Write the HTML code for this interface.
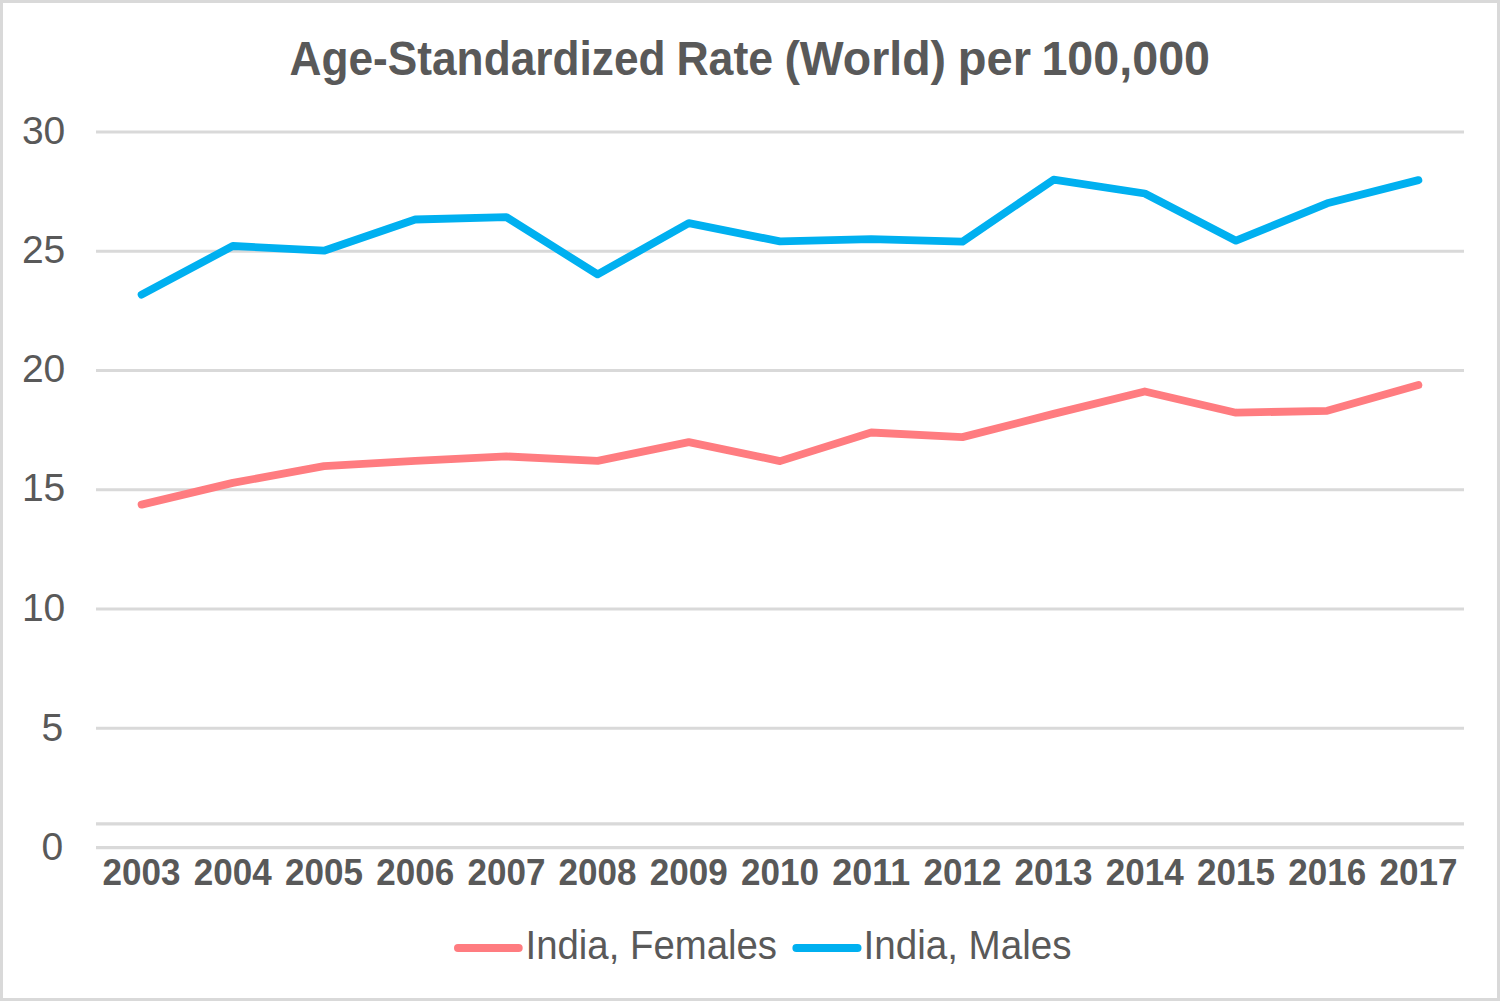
<!DOCTYPE html>
<html><head><meta charset="utf-8"><style>
html,body{margin:0;padding:0;background:#fff;}
body{width:1500px;height:1001px;overflow:hidden;}
svg{display:block;}
</style></head><body>
<svg width="1500" height="1001" viewBox="0 0 1500 1001">
<rect x="1.5" y="1.5" width="1497" height="998" fill="#fff" stroke="#d9d9d9" stroke-width="3"/>
<g font-family="Liberation Sans, sans-serif" font-weight="bold" font-size="48.5" fill="#595959">
<text x="289.48" y="75" textLength="376.06" lengthAdjust="spacingAndGlyphs">Age-Standardized</text>
<text x="676.38" y="75" textLength="96.67" lengthAdjust="spacingAndGlyphs">Rate</text>
<text x="784.41" y="75" textLength="161.65" lengthAdjust="spacingAndGlyphs">(World)</text>
<text x="957.81" y="75" textLength="73.25" lengthAdjust="spacingAndGlyphs">per</text>
<text x="1041.39" y="75" textLength="168.68" lengthAdjust="spacingAndGlyphs">100,000</text>
</g>
<g stroke="#d9d9d9" stroke-width="3.1">
<line x1="96" y1="847.6" x2="1464" y2="847.6"/>
<line x1="96" y1="728.3" x2="1464" y2="728.3"/>
<line x1="96" y1="609.0" x2="1464" y2="609.0"/>
<line x1="96" y1="489.8" x2="1464" y2="489.8"/>
<line x1="96" y1="370.5" x2="1464" y2="370.5"/>
<line x1="96" y1="251.2" x2="1464" y2="251.2"/>
<line x1="96" y1="132.0" x2="1464" y2="132.0"/>
<line x1="96" y1="823.9" x2="1464" y2="823.9"/>
</g>
<g font-family="Liberation Sans, sans-serif" font-size="39" fill="#595959">
<text x="63.3" y="859.8" text-anchor="end">0</text>
<text x="63.1" y="740.7" text-anchor="end">5</text>
<text x="65.3" y="620.5" text-anchor="end">10</text>
<text x="65.3" y="501.0" text-anchor="end">15</text>
<text x="65.3" y="381.5" text-anchor="end">20</text>
<text x="65.3" y="262.5" text-anchor="end">25</text>
<text x="65.3" y="143.6" text-anchor="end">30</text>
</g>
<g font-family="Liberation Sans, sans-serif" font-weight="bold" font-size="37.5" fill="#595959">
<text x="102.6" y="885.0" textLength="78" lengthAdjust="spacingAndGlyphs">2003</text>
<text x="193.8" y="885.0" textLength="78" lengthAdjust="spacingAndGlyphs">2004</text>
<text x="285.0" y="885.0" textLength="78" lengthAdjust="spacingAndGlyphs">2005</text>
<text x="376.2" y="885.0" textLength="78" lengthAdjust="spacingAndGlyphs">2006</text>
<text x="467.4" y="885.0" textLength="78" lengthAdjust="spacingAndGlyphs">2007</text>
<text x="558.6" y="885.0" textLength="78" lengthAdjust="spacingAndGlyphs">2008</text>
<text x="649.8" y="885.0" textLength="78" lengthAdjust="spacingAndGlyphs">2009</text>
<text x="741.0" y="885.0" textLength="78" lengthAdjust="spacingAndGlyphs">2010</text>
<text x="832.2" y="885.0" textLength="78" lengthAdjust="spacingAndGlyphs">2011</text>
<text x="923.4" y="885.0" textLength="78" lengthAdjust="spacingAndGlyphs">2012</text>
<text x="1014.6" y="885.0" textLength="78" lengthAdjust="spacingAndGlyphs">2013</text>
<text x="1105.8" y="885.0" textLength="78" lengthAdjust="spacingAndGlyphs">2014</text>
<text x="1197.0" y="885.0" textLength="78" lengthAdjust="spacingAndGlyphs">2015</text>
<text x="1288.2" y="885.0" textLength="78" lengthAdjust="spacingAndGlyphs">2016</text>
<text x="1379.4" y="885.0" textLength="78" lengthAdjust="spacingAndGlyphs">2017</text>
</g>
<g fill="none" stroke-width="7.8" stroke-linecap="round" stroke-linejoin="round">
<polyline stroke="#ff7c80" points="141.6,504.6 232.8,482.9 324.0,466.2 415.2,460.9 506.4,456.4 597.6,460.9 688.8,442.1 780.0,461.1 871.2,432.5 962.4,437.1 1053.6,413.9 1144.8,391.5 1236.0,412.7 1327.2,410.8 1418.4,385.1"/>
<polyline stroke="#00b0f0" points="141.6,294.6 232.8,246.0 324.0,250.7 415.2,219.5 506.4,217.1 597.6,274.4 688.8,223.1 780.0,241.4 871.2,239.1 962.4,241.7 1053.6,179.7 1144.8,193.5 1236.0,240.7 1327.2,203.3 1418.4,180.1"/>
<line stroke="#ff7c80" stroke-width="8" x1="458" y1="948" x2="518.7" y2="948"/>
<line stroke="#00b0f0" stroke-width="8" x1="796.4" y1="948" x2="857.5" y2="948"/>
</g>
<g font-family="Liberation Sans, sans-serif" font-size="39.8" fill="#595959">
<text x="525.5" y="959" textLength="251.5" lengthAdjust="spacingAndGlyphs">India, Females</text>
<text x="863.5" y="959" textLength="208" lengthAdjust="spacingAndGlyphs">India, Males</text>
</g>
</svg>
</body></html>
